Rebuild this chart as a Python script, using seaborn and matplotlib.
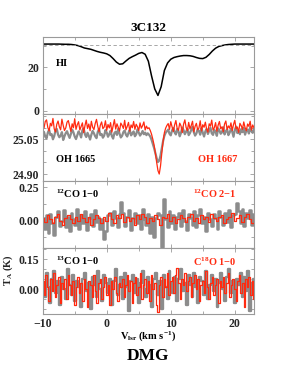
import numpy as np
import matplotlib
matplotlib.use("Agg")
import matplotlib.pyplot as plt
import seaborn as sns
from matplotlib.ticker import MultipleLocator

# HI emission profile, 0.5 km/s sampling from -10 km/s
hi_step = 0.5
hi_profile = [30.7, 30.7, 30.7, 30.7, 30.7, 30.7, 30.65, 30.6, 30.6, 30.5,
              30.3, 30.0, 29.5, 28.9, 28.6, 28.3, 27.8, 27.3, 26.9, 26.6,
              26.2, 25.4, 24.0, 22.4, 21.4, 21.6, 22.9, 24.1, 24.9, 25.6,
              26.4, 26.8, 26.0, 22.8, 16.0, 10.0, 7.0, 11.0, 18.5, 22.0,
              23.7, 24.5, 24.9, 25.2, 25.4, 25.4, 25.3, 25.0, 24.5, 24.1,
              24.0, 24.6, 25.9, 27.5, 28.8, 29.6, 30.0, 30.3, 30.5, 30.6,
              30.7, 30.7, 30.7, 30.7, 30.7, 30.7, 30.7]
hi_level = 30.4

# OH spectra, 0.2 km/s channels from -10 km/s
oh_step = 0.2
oh1665 = [25.075, 25.082, 25.061, 25.054, 25.079, 25.091, 25.068, 25.072, 25.050, 25.064,
          25.088, 25.095, 25.070, 25.059, 25.066, 25.081, 25.047, 25.063, 25.077, 25.085,
          25.069, 25.056, 25.073, 25.092, 25.080, 25.062, 25.051, 25.067, 25.084, 25.074,
          25.058, 25.089, 25.097, 25.071, 25.060, 25.078, 25.065, 25.049, 25.070, 25.086,
          25.076, 25.063, 25.055, 25.082, 25.094, 25.068, 25.073, 25.057, 25.066, 25.090,
          25.079, 25.061, 25.072, 25.087, 25.064, 25.053, 25.077, 25.083, 25.069, 25.096,
          25.074, 25.058, 25.065, 25.081, 25.088, 25.070, 25.062, 25.078, 25.091, 25.067,
          25.075, 25.084, 25.063, 25.071, 25.093, 25.080, 25.066, 25.074, 25.086, 25.072,
          25.079, 25.068, 25.076,
          25.070, 25.062, 25.048, 25.030, 25.012, 24.990, 24.968, 24.952, 24.958, 24.980,
          25.012, 25.042, 25.065, 25.078, 25.085,
          25.092, 25.074, 25.067, 25.088, 25.099, 25.080, 25.071, 25.094, 25.085, 25.063,
          25.078, 25.101, 25.089, 25.072, 25.083, 25.096, 25.068, 25.077, 25.090, 25.104,
          25.081, 25.066, 25.075, 25.093, 25.086, 25.070, 25.098, 25.079, 25.062, 25.084,
          25.095, 25.073, 25.087, 25.100, 25.076, 25.069, 25.091, 25.082, 25.065, 25.097,
          25.088, 25.074, 25.080, 25.102, 25.071, 25.085, 25.093, 25.068, 25.079, 25.096,
          25.083, 25.061, 25.090, 25.105, 25.077, 25.086, 25.072, 25.094, 25.081, 25.099,
          25.070, 25.087, 25.092, 25.075, 25.103, 25.084, 25.078, 25.095]
oh1667 = [25.112, 25.098, 25.127, 25.134, 25.101, 25.086, 25.119, 25.108, 25.140, 25.095,
          25.082, 25.115, 25.129, 25.104, 25.091, 25.137, 25.110, 25.088, 25.099, 25.124,
          25.131, 25.107, 25.084, 25.117, 25.100, 25.139, 25.093, 25.113, 25.126, 25.090,
          25.105, 25.121, 25.079, 25.109, 25.133, 25.097, 25.116, 25.087, 25.128, 25.102,
          25.092, 25.118, 25.136, 25.106, 25.083, 25.111, 25.125, 25.096, 25.103, 25.130,
          25.089, 25.114, 25.099, 25.122, 25.081, 25.108, 25.135, 25.094, 25.117, 25.101,
          25.086, 25.120, 25.110, 25.097, 25.132, 25.091, 25.106, 25.123, 25.085, 25.112,
          25.100, 25.127, 25.093, 25.115, 25.104, 25.088, 25.121, 25.098, 25.109, 25.125,
          25.090, 25.107, 25.096,
          25.100, 25.088, 25.072, 25.050, 25.025, 24.990, 24.950, 24.915, 24.900, 24.935,
          24.990, 25.040, 25.078, 25.098, 25.110,
          25.118, 25.093, 25.126, 25.104, 25.084, 25.112, 25.131, 25.097, 25.089, 25.120,
          25.108, 25.079, 25.115, 25.134, 25.101, 25.087, 25.123, 25.095, 25.110, 25.128,
          25.082, 25.106, 25.119, 25.091, 25.099, 25.130, 25.086, 25.113, 25.102, 25.124,
          25.094, 25.081, 25.117, 25.107, 25.133, 25.090, 25.100, 25.122, 25.085, 25.111,
          25.127, 25.096, 25.104, 25.083, 25.116, 25.129, 25.092, 25.108, 25.098, 25.121,
          25.088, 25.114, 25.132, 25.095, 25.103, 25.080, 25.119, 25.109, 25.093, 25.125,
          25.101, 25.087, 25.116, 25.106, 25.128, 25.090, 25.112, 25.099]

# 12CO 1-0 (0.3 km/s) and 12CO 2-1 (0.4 km/s)
co12_step = 0.3
co12_10 = [0.02, -0.06, 0.04, -0.09, 0.05, -0.02, -0.11, 0.03, 0.07, -0.04,
           0.00, 0.08, -0.05, 0.03, -0.08, 0.06, 0.01, -0.03, 0.09, -0.06,
           0.04, -0.02, 0.07, -0.07, 0.02, 0.05, -0.04, 0.08, -0.01, 0.03,
           -0.06, 0.01, -0.14, -0.08, 0.04, 0.06, -0.03, 0.07, 0.02, -0.05,
           0.05, 0.14, 0.06, -0.04, 0.03, 0.08, -0.07, 0.02, 0.06, -0.02,
           0.04, -0.06, 0.09, 0.01, -0.03, 0.05, -0.09, 0.03, -0.12, 0.02,
           0.06, 0.04, -0.20, 0.16, 0.01, -0.05, 0.07, -0.02, 0.04, -0.06,
           0.03, 0.06, -0.04, 0.08, 0.00, -0.07, 0.05, 0.02, -0.03, 0.07,
           -0.05, 0.04, 0.09, -0.02, 0.03, -0.08, 0.06, 0.01, -0.04, 0.05,
           0.02, -0.06, 0.07, 0.03, -0.03, 0.06, -0.01, 0.08, -0.05, 0.04,
           0.05, 0.13, 0.07, -0.02, 0.09, -0.04, 0.06, 0.02, 0.08, -0.03, 0.05]
co21_step = 0.4
co12_21 = [0.02, -0.01, 0.04, 0.01, -0.02, 0.03, 0.05, 0.00, -0.03, 0.02,
           0.04, 0.01, -0.02, 0.03, 0.00, 0.05, 0.02, -0.01, 0.03, -0.03,
           0.01, 0.04, 0.02, -0.02, 0.03, 0.00, 0.06, 0.01, -0.02, 0.04,
           0.02, 0.05, -0.01, 0.03, 0.00, 0.02, -0.03, 0.04, 0.01, 0.05,
           0.03, -0.02, 0.02, 0.00, 0.04, 0.01, -0.03, 0.03, 0.02, 0.05,
           0.00, 0.03, -0.02, 0.01, 0.04, 0.02, -0.01, 0.03, 0.05, 0.00,
           0.02, -0.02, 0.04, 0.01, 0.03, -0.01, 0.05, 0.02, 0.00, 0.03,
           0.04, -0.02, 0.01, 0.03, 0.06, 0.00, 0.02, 0.04, -0.01, 0.03,
           0.05, 0.01, -0.02, 0.03]

# 13CO 1-0 (0.3 km/s) and C18O 1-0 (0.25 km/s)
co13_step = 0.3
co13_10 = [0.03, -0.04, 0.08, 0.01, -0.07, 0.05, 0.09, -0.02, 0.04, -0.08,
           0.06, 0.00, -0.05, 0.10, 0.02, -0.03, 0.07, -0.06, 0.04, 0.01,
           -0.09, 0.05, 0.08, -0.01, 0.03, -0.10, 0.06, 0.02, -0.04, 0.09,
           0.00, -0.06, 0.07, 0.03, -0.02, 0.05, -0.08, 0.04, 0.10, -0.03,
           0.02, 0.06, -0.05, 0.08, 0.01, -0.11, 0.04, 0.07, -0.02, 0.05,
           -0.07, 0.03, 0.09, 0.00, -0.04, 0.06, 0.02, -0.09, 0.05, 0.08,
           -0.03, 0.04, -0.10, 0.07, 0.01, -0.05, 0.09, 0.03, -0.02, 0.06,
           -0.06, 0.05, 0.10, -0.01, 0.03, -0.08, 0.07, 0.02, -0.04, 0.08,
           0.01, -0.07, 0.06, 0.04, -0.03, 0.09, -0.05, 0.02, 0.07, -0.01,
           0.05, -0.09, 0.03, 0.08, 0.00, -0.06, 0.06, 0.10, -0.02, 0.04,
           -0.07, 0.05, 0.02, 0.08, -0.04, 0.06, -0.01, 0.09, -0.11, 0.03, 0.05]
c18o_step = 0.25
c18o_10 = [0.04, -0.03, 0.07, 0.01, -0.06, 0.05, -0.01, 0.08, -0.04, 0.02,
           0.06, -0.07, 0.03, 0.00, 0.05, -0.05, 0.07, 0.02, -0.03, 0.04,
           -0.08, 0.01, 0.06, -0.02, 0.03, -0.06, 0.05, 0.00, -0.09, 0.04,
           0.02, -0.04, 0.07, -0.01, -0.07, 0.03, 0.05, -0.05, 0.01, 0.06,
           -0.03, 0.02, -0.08, 0.04, 0.00, 0.06, -0.02, -0.06, 0.03, 0.01,
           0.05, -0.04, 0.02, 0.07, -0.01, 0.04, -0.07, 0.03, 0.06, -0.03,
           0.01, 0.08, -0.05, 0.02, 0.05, -0.02, 0.04, -0.06, 0.07, 0.00,
           0.03, -0.08, -0.115, 0.02, 0.06, -0.04, 0.05, 0.01, 0.08, -0.03,
           0.04, 0.06, -0.02, 0.07, 0.105, 0.03, -0.05, 0.05, 0.02, 0.08,
           -0.01, 0.04, 0.06, -0.04, 0.03, 0.07, 0.00, 0.05, -0.06, 0.02,
           0.04, -0.02, 0.09, 0.01, -0.05, 0.03, 0.06, -0.03, 0.02, 0.05,
           -0.07, 0.04, 0.01, 0.06, -0.02, 0.03, 0.08, -0.04, 0.02, 0.05,
           0.00, -0.06, 0.04, 0.07, -0.02, 0.03, -0.09, 0.05, 0.01, 0.06,
           -0.03, 0.04, -0.05]

v_start = -10.0


def chan(values, step):
    return v_start + step * np.arange(len(values))


sns.set_style("ticks")
plt.rcParams["font.family"] = ["Liberation Serif", "DejaVu Serif"]
plt.rcParams["font.weight"] = "bold"
plt.rcParams["mathtext.fontset"] = "custom"
plt.rcParams["mathtext.rm"] = "Liberation Serif:bold"
plt.rcParams["mathtext.bf"] = "Liberation Serif:bold"
plt.rcParams["mathtext.it"] = "Liberation Serif:bold"
plt.rcParams["mathtext.default"] = "rm"

frame = "#9a9a9a"
grey = "#8c8c8c"
red = "#ff2a10"

fig = plt.figure(figsize=(2.83, 3.71), dpi=100)
left, width = 42.7 / 283, (254 - 42.7) / 283
H = 371.0
bounds = [(36.7, 114.3), (114.3, 181.0), (181.0, 248.0), (248.0, 314.3)]
axes = [fig.add_axes([left, (H - b) / H, width, (b - t) / H]) for t, b in bounds]
ax1, ax2, ax3, ax4 = axes

# HI
sns.lineplot(x=chan(hi_profile, hi_step), y=hi_profile, ax=ax1, color="black",
             lw=1.1, estimator=None)
ax1.axhline(hi_level, color="#999999", lw=0.6, ls=(0, (4, 3)))
ax1.set_ylim(-1.7, 34.1)
ax1.yaxis.set_major_locator(MultipleLocator(20))
ax1.yaxis.set_minor_locator(MultipleLocator(10))

# OH
sns.lineplot(x=chan(oh1665, oh_step), y=oh1665, ax=ax2, color=grey, lw=1.6,
             estimator=None)
sns.lineplot(x=chan(oh1667, oh_step), y=oh1667, ax=ax2, color=red, lw=0.9,
             estimator=None)
ax2.set_ylim(24.870, 25.158)
ax2.set_yticks([24.90, 25.05])
ax2.set_yticklabels(["24.90", "25.05"])
ax2.yaxis.set_minor_locator(MultipleLocator(0.05))

# 12CO
sns.lineplot(x=chan(co12_10, co12_step), y=co12_10, ax=ax3, color=grey, lw=1.8,
             drawstyle="steps-mid", estimator=None)
sns.lineplot(x=chan(co12_21, co21_step), y=co12_21, ax=ax3, color=red, lw=0.9,
             drawstyle="steps-mid", estimator=None)
ax3.set_ylim(-0.204, 0.297)
ax3.set_yticks([0.0, 0.25])
ax3.set_yticklabels(["0.00", "0.25"])
ax3.yaxis.set_minor_locator(MultipleLocator(0.125))

# 13CO / C18O
sns.lineplot(x=chan(co13_10, co13_step), y=co13_10, ax=ax4, color=grey, lw=1.7,
             drawstyle="steps-mid", estimator=None)
sns.lineplot(x=chan(c18o_10, c18o_step), y=c18o_10, ax=ax4, color=red, lw=0.9,
             drawstyle="steps-mid", estimator=None)
ax4.set_ylim(-0.125, 0.2065)
ax4.set_yticks([0.0, 0.15])
ax4.set_yticklabels(["0.00", "0.15"])
ax4.yaxis.set_minor_locator(MultipleLocator(0.05))

for ax in axes:
    ax.set_xlim(-10, 23)
    ax.xaxis.set_major_locator(MultipleLocator(10))
    ax.xaxis.set_minor_locator(MultipleLocator(5))
    ax.tick_params(which="both", direction="in", top=True, right=True,
                   color=frame, labelsize=8.5, width=0.6, pad=2.5)
    ax.tick_params(which="major", length=3)
    ax.tick_params(which="minor", length=2)
    for s in ax.spines.values():
        s.set_color(frame)
        s.set_linewidth(0.8)
    ax.set_xlabel("")
    ax.set_ylabel("")
    if ax is not ax4:
        ax.tick_params(labelbottom=False)
    for lab in ax.get_yticklabels() + ax.get_xticklabels():
        lab.set_fontweight("bold")

ax4.set_xticks([-10, 0, 10, 20])


def ftxt(x, y, s, color="black", ha="left", size=7.5):
    fig.text(x / 283, 1 - y / H, s, color=color, ha=ha, va="center",
             fontsize=size, fontweight="bold")


ftxt(148, 28, "3C132", ha="center", size=9.5)
ftxt(62, 64, "HI", ha="center")
ftxt(56, 160, "OH 1665")
ftxt(237, 160, "OH 1667", color=red, ha="right")
ftxt(56, 194, r"$^{12}$CO 1$-$0")
ftxt(237, 194, r"$^{12}$CO 2$-$1", color=red, ha="right")
ftxt(56, 261, r"$^{13}$CO 1$-$0")
ftxt(237, 262, r"C$^{18}$O 1$-$0", color=red, ha="right")
ftxt(148, 336, r"V$_{\rm lsr}$ (km s$^{-1}$)", ha="center", size=7.5)
fig.text(8 / 283, 1 - 270 / H, r"T$_{\rm A}$ (K)", rotation=90, ha="center",
         va="center", fontsize=7.5, fontweight="bold")
ftxt(148, 356, "DMG", ha="center", size=12.5)

fig.savefig("out.png", dpi=100)
